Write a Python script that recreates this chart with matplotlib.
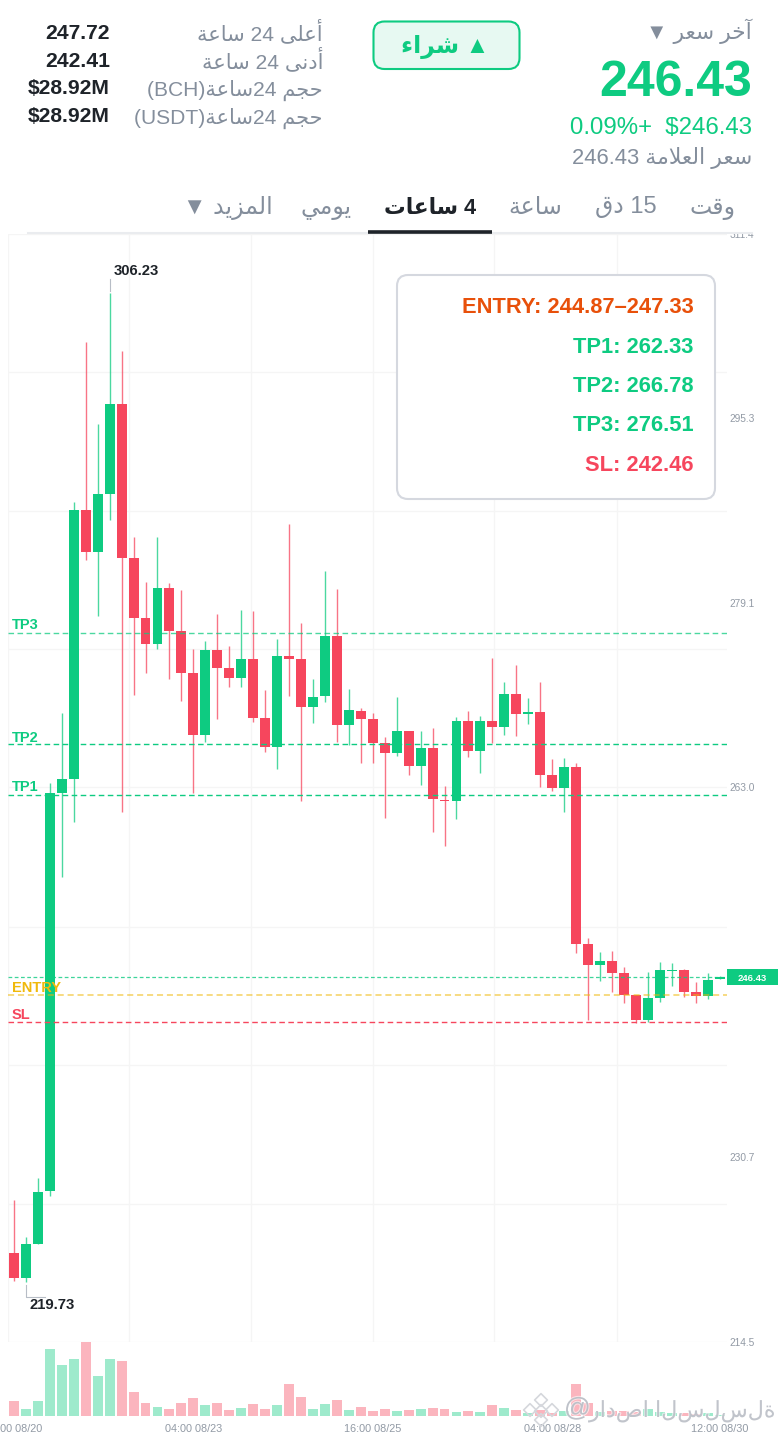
import matplotlib
matplotlib.use("Agg")
import matplotlib.pyplot as plt
from matplotlib.patches import FancyBboxPatch, Rectangle
import matplotlib.patheffects as pe

plt.rcParams['font.family'] = ['Liberation Sans', 'DejaVu Sans']

# 4h candles
opens = [222.31, 220.07, 223.07, 227.73, 262.48, 263.71, 287.26, 283.56, 288.66, 296.53,
         283.06, 277.79, 275.54, 280.46, 276.68, 273.03, 267.61, 275.02, 273.44, 272.59,
         274.25, 269.04, 266.56, 274.52, 274.20, 270.06, 270.99, 276.24, 268.43, 269.68,
         268.96, 266.86, 266.01, 267.93, 264.84, 266.45, 261.92, 261.84, 268.81, 266.18,
         268.81, 268.26, 271.14, 269.44, 269.59, 264.11, 262.97, 264.81, 249.31, 247.47,
         247.82, 246.74, 244.85, 242.63, 244.61, 246.94, 247.00, 245.13, 244.78, 246.22]
highs = [226.92, 223.71, 228.84, 263.36, 269.53, 287.96, 301.95, 294.75, 306.23, 301.13,
         284.92, 280.94, 284.92, 280.85, 280.26, 275.08, 275.78, 278.16, 275.37, 278.51,
         278.45, 271.52, 275.95, 286.03, 277.35, 272.45, 281.95, 280.38, 271.58, 269.92,
         269.48, 267.38, 270.88, 267.93, 267.93, 268.22, 263.12, 269.16, 269.71, 269.27,
         274.29, 272.24, 273.68, 270.84, 272.22, 265.46, 265.60, 265.11, 249.83, 248.58,
         248.69, 247.32, 244.85, 246.86, 247.70, 247.64, 247.09, 245.96, 246.74, 246.53]
lows = [219.86, 219.73, 223.03, 227.29, 255.19, 260.00, 282.89, 278.01, 286.38, 260.87,
        271.08, 273.03, 275.08, 272.45, 270.53, 262.48, 266.94, 269.01, 271.81, 271.75,
        268.75, 266.07, 264.63, 270.99, 261.81, 268.66, 270.44, 267.00, 266.71, 265.16,
        265.16, 260.35, 265.77, 264.06, 263.18, 259.07, 257.88, 260.24, 265.68, 264.28,
        266.86, 267.56, 267.52, 268.52, 263.06, 262.71, 260.87, 248.54, 242.66, 246.07,
        245.13, 244.12, 242.37, 242.46, 244.26, 245.66, 244.64, 244.12, 244.47, 246.22]
closes = [220.07, 223.07, 227.64, 262.48, 263.71, 287.26, 283.56, 288.63, 296.53, 283.06,
          277.79, 275.54, 280.46, 276.68, 273.03, 267.61, 275.02, 273.44, 272.59, 274.25,
          269.04, 266.56, 274.52, 274.20, 270.06, 270.93, 276.24, 268.43, 269.74, 268.96,
          266.91, 266.01, 267.93, 264.84, 266.45, 261.96, 261.81, 268.81, 266.18, 268.83,
          268.26, 271.14, 269.39, 269.57, 264.11, 262.97, 264.81, 249.31, 247.47, 247.82,
          246.74, 244.85, 242.63, 244.61, 247.00, 247.00, 245.13, 244.78, 246.16, 246.43]
volumes = [15.3, 7.0, 15.3, 67.3, 51.3, 57.0, 74.0, 40.0, 56.7, 55.3,
           23.7, 13.0, 8.7, 7.3, 13.0, 17.7, 11.0, 13.0, 6.0, 7.7,
           12.0, 7.3, 11.3, 31.7, 18.7, 6.7, 12.3, 15.7, 6.0, 9.0,
           4.7, 7.3, 5.3, 6.0, 6.7, 7.7, 7.0, 4.0, 5.0, 4.3,
           11.0, 7.7, 6.3, 2.7, 6.0, 3.3, 5.0, 31.7, 12.7, 4.3,
           5.0, 5.0, 4.3, 6.7, 4.3, 2.7, 2.7, 2.0, 2.7, 1.0]

# levels
tp_levels = [262.33, 266.78, 276.51]
entry_level = 244.87
sl_level = 242.46
last_price = 246.43

grid_prices = [214.5, 226.6, 238.7, 250.8, 263.0, 275.1, 287.2, 299.3, 311.4]
label_prices = [214.5, 230.7, 263.0, 279.1, 295.3, 311.4]
grid_idx = [-0.5, 9.64, 19.85, 30.04, 40.16, 50.39]
time_idx = [0, 15, 30, 45, 59]
time_labels = ["16:00 08/20", "04:00 08/23", "16:00 08/25", "04:00 08/28", "12:00 08/30"]

GREEN = "#0ECB81"
RED = "#F6465D"
GOLD = "#F0B90B"
GRAY = "#848E9C"
AXGRAY = "#929AA5"
DARK = "#1E2329"
GRID = "#F5F5F5"

# matplotlib does no arabic shaping, so map to presentation forms in visual order
DUAL = {'ب': 0xFE8F, 'ت': 0xFE95, 'ج': 0xFE9D, 'ح': 0xFEA1, 'خ': 0xFEA5, 'س': 0xFEB1, 'ش': 0xFEB5,
        'ص': 0xFEB9, 'ع': 0xFEC9, 'ق': 0xFED5, 'ل': 0xFEDD, 'م': 0xFEE1, 'ن': 0xFEE5, 'ي': 0xFEF1}
RIGHT = {'ا': 0xFE8D, 'آ': 0xFE81, 'أ': 0xFE83, 'ة': 0xFE93, 'د': 0xFEA9, 'ر': 0xFEAD, 'ز': 0xFEAF,
         'و': 0xFEED, 'ى': 0xFEEF}


def ar(word):
    word = word.replace('لا', '\uFEFB')
    out = []
    joined = False
    for ch in word:
        if ch == '\uFEFB':
            out.append(chr(0xFEFC) if joined else ch)
            joined = False
        elif ch in DUAL:
            out.append(chr(DUAL[ch] + (3 if joined else 2)))
            joined = True
        elif ch in RIGHT:
            out.append(chr(RIGHT[ch] + (1 if joined else 0)))
            joined = False
        elif ch == 'ء':
            out.append(chr(0xFE80))
            joined = False
        else:
            out.append(ch)
            joined = False
    # a dual letter at the end of the word takes the final form
    for k in range(len(out)):
        src = ord(out[k])
        last = k == len(out) - 1
        for base in DUAL.values():
            if last and src == base + 2:
                out[k] = chr(base)
            elif last and src == base + 3:
                out[k] = chr(base + 1)
    return "".join(reversed(out))


W, H = 780, 1434
fig = plt.figure(figsize=(W / 100, H / 100), dpi=100, facecolor="white")


def px_axes(x0, y0, x1, y1):
    return fig.add_axes([x0 / W, 1 - y1 / H, (x1 - x0) / W, (y1 - y0) / H])


ax = px_axes(8, 234, 727, 1342)
vol = px_axes(8, 1342, 727, 1416)
idx = list(range(len(closes)))
colors = [GREEN if closes[i] >= opens[i] else RED for i in idx]

for a in (ax, vol):
    a.set_xlim(-0.5, 59.62)
    for s in a.spines.values():
        s.set_visible(False)

# price pane
ax.set_ylim(214.5, 311.4)
ax.set_axisbelow(True)
ax.set_xticks(grid_idx)
ax.set_xticklabels([])
ax.set_yticks(grid_prices)
ax.set_yticklabels([])
ax.grid(True, color=GRID, lw=1)
ax.yaxis.tick_right()
ax.yaxis.remove_overlapping_locs = False
ax.set_yticks(label_prices, [f"{p:.1f}" for p in label_prices], minor=True)
ax.tick_params(which='both', length=0)
ax.tick_params(axis='y', which='minor', labelsize=7.3, labelcolor=AXGRAY, pad=1.5)

ax.vlines(idx, lows, highs, colors=colors, lw=1.0, alpha=0.75, zorder=3)
ax.bar(idx, [abs(closes[i] - opens[i]) for i in idx], bottom=[min(opens[i], closes[i]) for i in idx],
       width=0.83, color=colors, zorder=4, edgecolor="none")

dash = (0, (4, 2.5))
ax.axhline(tp_levels[0], color=GREEN, lw=1.0, ls=dash, zorder=5)
ax.axhline(tp_levels[1], color=GREEN, lw=1.0, ls=dash, zorder=5)
ax.axhline(tp_levels[2], color=GREEN, lw=1.0, ls=dash, alpha=0.75, zorder=5)
ax.axhline(last_price, color=GREEN, lw=0.9, ls=(0, (3, 2)), alpha=0.8, zorder=5)
ax.axhline(entry_level, color=GOLD, lw=1.1, ls=dash, alpha=0.65, zorder=5)
ax.axhline(sl_level, color=RED, lw=1.0, ls=dash, zorder=5)

# volume pane
vol.set_ylim(0, 74)
vol.set_axisbelow(True)
vol.bar(idx, volumes, width=0.83, color=colors, alpha=0.4, edgecolor="none")
vol.set_yticks([])
vol.set_xticks(time_idx, time_labels)
vol.tick_params(axis='x', length=0, labelsize=7.8, labelcolor=AXGRAY, pad=6)

# everything around the chart, in pixels
ov = fig.add_axes([0, 0, 1, 1], zorder=5)
ov.set_xlim(0, W)
ov.set_ylim(H, 0)
ov.axis("off")
ov.patch.set_alpha(0)


def txt(x, y, s, size, color=GRAY, ha="right", weight="normal", **kw):
    return ov.text(x, y, s, fontsize=size, color=color, ha=ha, va="baseline", fontweight=weight, **kw)


ov.add_patch(Rectangle((0, 0), W, 232, fc="white", ec="none", zorder=1))
Z = {"zorder": 3}

# left stats
val_y = [39, 67, 94, 122]
lab_y = [40.5, 68, 96, 124]
stat_vals = ["247.72", "242.41", "$28.92M", "$28.92M"]
stat_labels = [f"{ar('ساعة')} 24 {ar('أعلى')}", f"{ar('ساعة')} 24 {ar('أدنى')}",
               f"(BCH){ar('ساعة')}24 {ar('حجم')}", f"(USDT){ar('ساعة')}24 {ar('حجم')}"]
for y0, y1, v, l in zip(val_y, lab_y, stat_vals, stat_labels):
    txt(110, y0, v, 15.2, DARK, weight="bold", **Z)
    txt(323, y1, l, 15.1, GRAY, **Z)

# buy button
ov.add_patch(FancyBboxPatch((373.5, 21.5), 146, 47.5, boxstyle="round,pad=0,rounding_size=11", fc="#E7F9F2", ec=GREEN,
                            lw=1.5, zorder=2))
txt(445, 53, f"{ar('شراء')} \u25B2", 17, GREEN, ha="center", weight="bold", **Z)

# last price block
txt(752, 39.5, f"\u25BC {ar('سعر')} {ar('آخر')}", 15.7, GRAY, **Z)
txt(752, 96, "246.43", 36, GREEN, weight="bold", **Z)
txt(752, 133.5, "0.09%+  $246.43", 17.3, GREEN, **Z)
txt(752, 164, f"246.43 {ar('العلامة')} {ar('سعر')}", 15.85, GRAY, **Z)

# tabs
ov.plot([28, 752], [233, 233], color="#EAECEF", lw=1.5, zorder=2)
ov.plot([368, 492], [232, 232], color=DARK, lw=2.6, zorder=3, solid_capstyle="butt")
tab_x = [712.5, 626, 535, 430, 326.5, 228]
tabs = [ar('وقت'), f"{ar('دق')} 15", ar('ساعة'), f"{ar('ساعات')} 4", ar('يومي'), f"\u25BC {ar('المزيد')}"]
for i, (x, t) in enumerate(zip(tab_x, tabs)):
    act = i == 3
    txt(x, 213.5, t, 15.6 if act else 17, DARK if act else GRAY, ha="center", weight="bold" if act else "normal", **Z)

# levels card
ov.add_patch(FancyBboxPatch((397, 275), 318, 224, boxstyle="round,pad=0,rounding_size=11", fc="white",
                            ec="#D5D8DF", lw=1.5, zorder=2))
card_lines = ["ENTRY: 244.87\u2013247.33", "TP1: 262.33", "TP2: 266.78", "TP3: 276.51", "SL: 242.46"]
card_colors = ["#E8500A", GREEN, GREEN, GREEN, RED]
card_y = [312.7, 352.7, 392.3, 430.7, 470.7]
for y, s, c in zip(card_y, card_lines, card_colors):
    txt(693.5, y, s, 15.75, c, weight="bold", **Z)

# level tags on the chart
tag_names = ["TP3", "TP2", "TP1", "ENTRY", "SL"]
tag_y = [629.3, 741.7, 791, 991.7, 1019.3]
tag_colors = [GREEN, GREEN, GREEN, GOLD, RED]
for y, s, c in zip(tag_y, tag_names, tag_colors):
    txt(12, y, s, 10.5, c, ha="left", weight="bold", **Z)

# max / min markers
txt(114, 275, "306.23", 10.7, DARK, ha="left", weight="bold", **Z)
ov.plot([109.5, 109.5], [279, 291], color="#B7BDC6", lw=0.8, zorder=2)
txt(30, 1309.3, "219.73", 10.7, DARK, ha="left", weight="bold", **Z)
ov.plot([25.5, 25.5, 45], [1285, 1297, 1297], color="#B7BDC6", lw=0.8, zorder=2)

# last price tag
ov.add_patch(Rectangle((727, 969), 51, 16, fc=GREEN, ec="none", zorder=2))
txt(752.5, 980.8, "246.43", 6.8, "white", ha="center", weight="bold", **Z)

# watermark
halo = [pe.withStroke(linewidth=1.5, foreground="white", alpha=0.6)]
wm = "".join(ar(c) for c in "رادصا") + " " + "".join(ar(c) for c in "السلسلة")
txt(564, 1416, "@", 19, "#B9BDC5", ha="left", alpha=0.9, path_effects=halo, **Z)
txt(589, 1417, wm, 16, "#B9BDC5", ha="left", alpha=0.85, path_effects=halo, **Z)
wm_dx = [0, -11, 11, 0, 0]
wm_dy = [-10, 0, 0, 10, 1]
ov.scatter([541 + d for d in wm_dx], [1410 + d for d in wm_dy], marker="D", s=42, fc="none", ec="#D5D7DC", lw=1.2,
           zorder=3)

fig.savefig("out.png", dpi=100)
